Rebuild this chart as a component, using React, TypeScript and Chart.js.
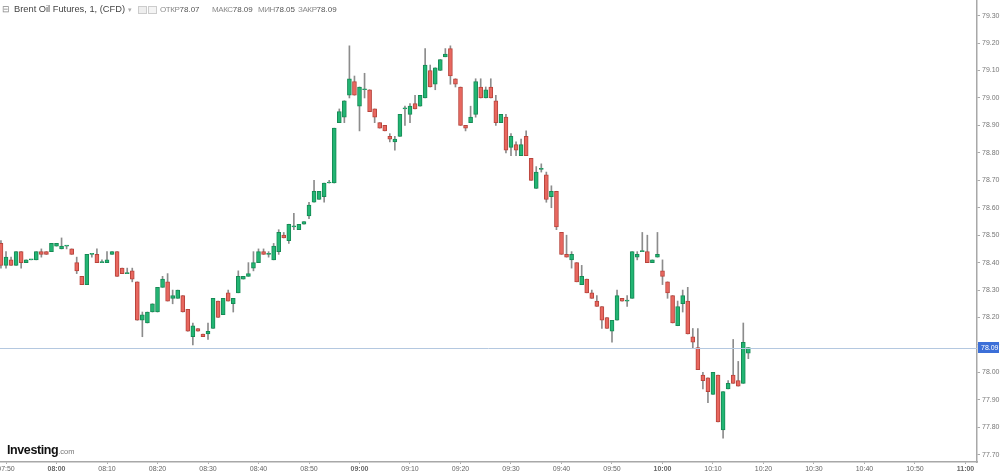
import React, { useEffect, useRef } from "react";
import { Chart, registerables } from "chart.js";

Chart.register(...registerables);

// minute offset of first candle relative to 07:50
const startMinute = -1;

const opens = [
  78.47, 78.39, 78.41, 78.39, 78.44, 78.40, 78.41, 78.41, 78.44, 78.44,
  78.44, 78.46, 78.45, 78.46, 78.45, 78.40, 78.35, 78.32, 78.43, 78.43,
  78.40, 78.40, 78.43, 78.44, 78.38, 78.36, 78.37, 78.33, 78.19, 78.18,
  78.22, 78.22, 78.31, 78.33, 78.27, 78.27, 78.28, 78.23, 78.13, 78.16,
  78.14, 78.14, 78.16, 78.26, 78.21, 78.29, 78.25, 78.29, 78.34, 78.35,
  78.38, 78.40, 78.44, 78.43, 78.41, 78.44, 78.50, 78.48, 78.53, 78.52,
  78.54, 78.57, 78.62, 78.63, 78.64, 78.69, 78.69, 78.91, 78.93, 79.01,
  79.06, 78.97, 79.03, 79.03, 78.96, 78.91, 78.90, 78.86, 78.84, 78.86,
  78.96, 78.94, 78.98, 78.97, 79.00, 79.10, 79.05, 79.10, 79.15, 79.18,
  79.07, 79.04, 78.90, 78.91, 78.94, 79.04, 79.00, 79.04, 78.99, 78.91,
  78.93, 78.82, 78.83, 78.79, 78.86, 78.78, 78.67, 78.74, 78.72, 78.64,
  78.66, 78.51, 78.43, 78.41, 78.40, 78.32, 78.34, 78.29, 78.26, 78.24,
  78.20, 78.15, 78.19, 78.27, 78.26, 78.27, 78.42, 78.44, 78.44, 78.40,
  78.42, 78.37, 78.33, 78.28, 78.17, 78.25, 78.26, 78.13, 78.09, 77.99,
  77.98, 77.92, 77.99, 77.79, 77.94, 77.99, 77.97, 77.96, 78.07,
];
const highs = [
  78.48, 78.44, 78.42, 78.44, 78.44, 78.41, 78.41, 78.44, 78.45, 78.44,
  78.47, 78.47, 78.49, 78.46, 78.45, 78.42, 78.35, 78.43, 78.43, 78.45,
  78.41, 78.44, 78.44, 78.44, 78.38, 78.38, 78.38, 78.33, 78.22, 78.22,
  78.25, 78.31, 78.35, 78.36, 78.30, 78.30, 78.28, 78.23, 78.18, 78.16,
  78.14, 78.18, 78.27, 78.26, 78.27, 78.30, 78.27, 78.37, 78.35, 78.40,
  78.44, 78.45, 78.45, 78.44, 78.47, 78.52, 78.51, 78.54, 78.58, 78.54,
  78.55, 78.62, 78.70, 78.66, 78.69, 78.70, 78.89, 78.96, 78.99, 79.19,
  79.08, 79.04, 79.09, 79.03, 78.96, 78.91, 78.90, 78.87, 78.86, 78.94,
  78.97, 78.98, 79.01, 79.01, 79.18, 79.12, 79.11, 79.14, 79.18, 79.19,
  79.07, 79.04, 78.90, 78.97, 79.07, 79.07, 79.04, 79.07, 79.01, 78.94,
  78.94, 78.87, 78.84, 78.85, 78.88, 78.78, 78.75, 78.76, 78.73, 78.68,
  78.66, 78.51, 78.50, 78.44, 78.40, 78.39, 78.34, 78.30, 78.28, 78.24,
  78.20, 78.19, 78.30, 78.27, 78.28, 78.44, 78.44, 78.51, 78.50, 78.41,
  78.51, 78.41, 78.33, 78.28, 78.26, 78.30, 78.31, 78.16, 78.16, 78.00,
  77.98, 78.00, 77.99, 77.93, 77.97, 78.12, 78.04, 78.18, 78.09,
];
const lows = [
  78.38, 78.38, 78.39, 78.39, 78.38, 78.40, 78.41, 78.41, 78.42, 78.43,
  78.44, 78.46, 78.45, 78.45, 78.43, 78.36, 78.32, 78.32, 78.42, 78.40,
  78.40, 78.40, 78.43, 78.35, 78.36, 78.36, 78.33, 78.19, 78.13, 78.18,
  78.22, 78.22, 78.31, 78.26, 78.25, 78.27, 78.22, 78.15, 78.10, 78.15,
  78.13, 78.12, 78.16, 78.20, 78.21, 78.26, 78.22, 78.29, 78.34, 78.35,
  78.37, 78.40, 78.43, 78.42, 78.41, 78.43, 78.49, 78.47, 78.52, 78.52,
  78.54, 78.56, 78.62, 78.63, 78.62, 78.69, 78.69, 78.91, 78.91, 79.00,
  79.01, 78.88, 79.00, 78.95, 78.91, 78.89, 78.88, 78.84, 78.81, 78.86,
  78.90, 78.91, 78.96, 78.97, 79.00, 79.04, 79.03, 79.10, 79.15, 79.05,
  79.04, 78.90, 78.88, 78.91, 78.93, 79.00, 79.00, 79.00, 78.90, 78.91,
  78.80, 78.79, 78.79, 78.79, 78.79, 78.70, 78.67, 78.73, 78.62, 78.60,
  78.52, 78.43, 78.42, 78.38, 78.33, 78.32, 78.29, 78.27, 78.24, 78.16,
  78.16, 78.11, 78.19, 78.26, 78.24, 78.27, 78.41, 78.44, 78.40, 78.40,
  78.42, 78.32, 78.27, 78.18, 78.17, 78.22, 78.14, 78.09, 78.01, 77.94,
  77.89, 77.92, 77.82, 77.76, 77.94, 77.96, 77.95, 77.96, 78.05,
];
const closes = [
  78.39, 78.42, 78.39, 78.44, 78.40, 78.41, 78.41, 78.44, 78.43, 78.43,
  78.47, 78.47, 78.46, 78.46, 78.43, 78.37, 78.32, 78.43, 78.43, 78.40,
  78.40, 78.41, 78.44, 78.35, 78.36, 78.36, 78.34, 78.19, 78.21, 78.22,
  78.25, 78.31, 78.34, 78.26, 78.28, 78.30, 78.22, 78.15, 78.17, 78.15,
  78.13, 78.15, 78.27, 78.20, 78.27, 78.26, 78.27, 78.35, 78.35, 78.36,
  78.40, 78.44, 78.43, 78.43, 78.46, 78.51, 78.49, 78.54, 78.53, 78.54,
  78.55, 78.61, 78.66, 78.66, 78.69, 78.69, 78.89, 78.95, 78.99, 79.07,
  79.01, 79.04, 79.03, 78.95, 78.93, 78.89, 78.88, 78.85, 78.85, 78.94,
  78.96, 78.97, 78.96, 79.01, 79.12, 79.04, 79.11, 79.14, 79.16, 79.08,
  79.05, 78.90, 78.89, 78.93, 79.06, 79.00, 79.03, 79.00, 78.91, 78.94,
  78.81, 78.86, 78.81, 78.83, 78.79, 78.70, 78.73, 78.74, 78.63, 78.66,
  78.53, 78.43, 78.42, 78.43, 78.33, 78.35, 78.29, 78.27, 78.24, 78.19,
  78.16, 78.19, 78.28, 78.26, 78.26, 78.44, 78.43, 78.44, 78.40, 78.41,
  78.43, 78.35, 78.29, 78.18, 78.24, 78.28, 78.14, 78.11, 78.01, 77.97,
  77.93, 78.00, 77.82, 77.93, 77.96, 77.96, 77.95, 78.11, 78.09,
];

const xTickValues = [0, 10, 20, 30, 40, 50, 60, 70, 80, 90, 100, 110, 120, 130, 140, 150, 160, 170, 180, 190];
const xTickLabels = [
  "07:50", "08:00", "08:10", "08:20", "08:30", "08:40", "08:50", "09:00", "09:10", "09:20",
  "09:30", "09:40", "09:50", "10:00", "10:10", "10:20", "10:30", "10:40", "10:50", "11:00",
];
const boldTickLabels = ["08:00", "09:00", "10:00", "11:00"];
const yTickValues = [
  77.7, 77.8, 77.9, 78.0, 78.1, 78.2, 78.3, 78.4, 78.5, 78.6, 78.7, 78.8, 78.9, 79.0, 79.1, 79.2, 79.3,
];

const instrumentTitle = "Brent Oil Futures, 1, (CFD)";
const headerLabels = ["ОТКР", "МАКС", "МИН", "ЗАКР"];
const headerValues = ["78.07", "78.09", "78.05", "78.09"];

const GREEN = "#22b573";
const GREEN_BORDER = "#168a55";
const RED = "#e8675f";
const RED_BORDER = "#b8443c";
const WICK = "#8c8c8c";
const FONT = "'Liberation Sans', Arial, sans-serif";

const pricePlugin = {
  id: "pricePlugin",
  afterDatasetsDraw(chart: any) {
    const { ctx, chartArea, scales } = chart;
    const price = closes[closes.length - 1];
    const y = Math.round(scales.y.getPixelForValue(price)) + 0.5;
    ctx.save();
    ctx.strokeStyle = "#b4c8e0";
    ctx.lineWidth = 1;
    ctx.beginPath();
    ctx.moveTo(chartArea.left, y);
    ctx.lineTo(chartArea.right, y);
    ctx.stroke();
    ctx.restore();
  },
  afterDraw(chart: any) {
    const { ctx, chartArea, scales } = chart;
    const price = closes[closes.length - 1];
    const y = scales.y.getPixelForValue(price);
    ctx.save();
    ctx.fillStyle = "#3c6fd8";
    ctx.fillRect(chartArea.right + 1, Math.round(y - 5.5), 21, 11);
    ctx.fillStyle = "#ffffff";
    ctx.font = `7px ${FONT}`;
    ctx.textAlign = "left";
    ctx.textBaseline = "middle";
    ctx.fillText(price.toFixed(2), chartArea.right + 4, y + 0.5);
    ctx.restore();
  },
};

export default function App() {
  const canvasRef = useRef<HTMLCanvasElement | null>(null);

  useEffect(() => {
    document.body.style.margin = "0";
    const canvas = canvasRef.current;
    if (!canvas) return;

    const minutes = opens.map((_, i) => startMinute + i);
    const up = opens.map((o, i) => closes[i] >= o);
    const bodies = minutes.map((m, i) => ({
      x: m,
      y: [Math.min(opens[i], closes[i]), Math.max(opens[i], closes[i])],
    }));
    const wicks = minutes.map((m, i) => ({ x: m, y: [lows[i], highs[i]] }));

    const chart = new Chart(canvas, {
      type: "bar",
      data: {
        datasets: [
          {
            label: "body",
            data: bodies as any,
            backgroundColor: up.map((u) => (u ? GREEN : RED)),
            borderColor: up.map((u) => (u ? GREEN_BORDER : RED_BORDER)),
            borderWidth: 1,
            borderSkipped: false,
            barThickness: 4,
            grouped: false,
            minBarLength: 1,
            order: 1,
          } as any,
          {
            label: "wick",
            data: wicks as any,
            backgroundColor: WICK,
            borderWidth: 0,
            barThickness: 1,
            grouped: false,
            order: 2,
          } as any,
        ],
      },
      options: {
        animation: false,
        responsive: false,
        maintainAspectRatio: false,
        layout: { padding: 0 },
        plugins: { legend: { display: false }, tooltip: { enabled: false } },
        scales: {
          x: {
            type: "linear",
            min: -1.19,
            max: 192.28,
            offset: false,
            grid: { display: true, drawOnChartArea: false, drawTicks: true, tickLength: 2, color: "#aaaaaa", offset: false },
            border: { display: true, color: "#a8a8a8", width: 1.5 },
            afterBuildTicks: (scale: any) => {
              scale.ticks = xTickValues.map((v) => ({ value: v }));
            },
            afterFit: (scale: any) => {
              scale.height = 11;
              scale.paddingLeft = 0;
              scale.paddingRight = 0;
            },
            ticks: {
              autoSkip: false,
              maxRotation: 0,
              minRotation: 0,
              padding: 1,
              color: "#666666",
              font: (ctx: any) => {
                const i = xTickValues.indexOf(Math.round(ctx.tick ? ctx.tick.value : -999));
                const lbl = i >= 0 ? xTickLabels[i] : "";
                return { size: 7, family: FONT, weight: boldTickLabels.includes(lbl) ? "bold" : "normal" } as any;
              },
              callback: (v: any) => {
                const i = xTickValues.indexOf(Math.round(Number(v)));
                return i >= 0 ? xTickLabels[i] : "";
              },
            },
          } as any,
          y: {
            type: "linear",
            position: "right",
            min: 77.6735,
            max: 79.357,
            grid: { display: true, drawOnChartArea: false, drawTicks: true, tickLength: 3, color: "#aaaaaa" },
            border: { display: true, color: "#a8a8a8", width: 1.5 },
            afterBuildTicks: (scale: any) => {
              scale.ticks = yTickValues.map((v) => ({ value: v }));
            },
            afterFit: (scale: any) => {
              scale.width = 23;
              scale.paddingTop = 0;
              scale.paddingBottom = 0;
            },
            ticks: {
              autoSkip: false,
              padding: 2,
              color: "#777777",
              font: { size: 7, family: FONT },
              callback: (v: any) => Number(v).toFixed(2),
            },
          } as any,
        },
      },
      plugins: [pricePlugin],
    });

    return () => chart.destroy();
  }, []);

  return (
    <div style={{ position: "relative", width: 1000, height: 473, background: "#fff", overflow: "hidden", fontFamily: FONT }}>
      <canvas ref={canvasRef} width={1000} height={473} style={{ display: "block", width: 1000, height: 473 }} />
      <div style={{ position: "absolute", left: 2, top: 4, fontSize: 9, color: "#888", lineHeight: "11px" }}>⊟</div>
      <div style={{ position: "absolute", left: 14, top: 4, fontSize: 9.3, color: "#444", lineHeight: "11px", whiteSpace: "nowrap" }}>
        {instrumentTitle}
      </div>
      <div style={{ position: "absolute", left: 128, top: 4, fontSize: 7, color: "#aaa", lineHeight: "11px" }}>▾</div>
      <div style={{ position: "absolute", left: 138, top: 6, width: 7, height: 6, border: "1px solid #ccc", background: "#eee" }} />
      <div style={{ position: "absolute", left: 148, top: 6, width: 7, height: 6, border: "1px solid #ccc", background: "#f4f4f4" }} />
      {headerLabels.map((lbl, i) => {
        const lefts = [160, 212, 258, 298];
        return (
          <div key={lbl} style={{ position: "absolute", left: lefts[i], top: 4, fontSize: 8, lineHeight: "11px", whiteSpace: "nowrap" }}>
            <span style={{ color: "#8a8a8a", letterSpacing: -0.4 }}>{lbl}</span>
            <span style={{ color: "#555" }}>{headerValues[i]}</span>
          </div>
        );
      })}
      <div style={{ position: "absolute", left: 7, top: 441, whiteSpace: "nowrap", lineHeight: "15px" }}>
        <span style={{ fontSize: 12.5, fontWeight: "bold", color: "#111", letterSpacing: -0.4 }}>Investing</span>
        <span style={{ fontSize: 7.5, color: "#777" }}>.com</span>
      </div>
    </div>
  );
}
